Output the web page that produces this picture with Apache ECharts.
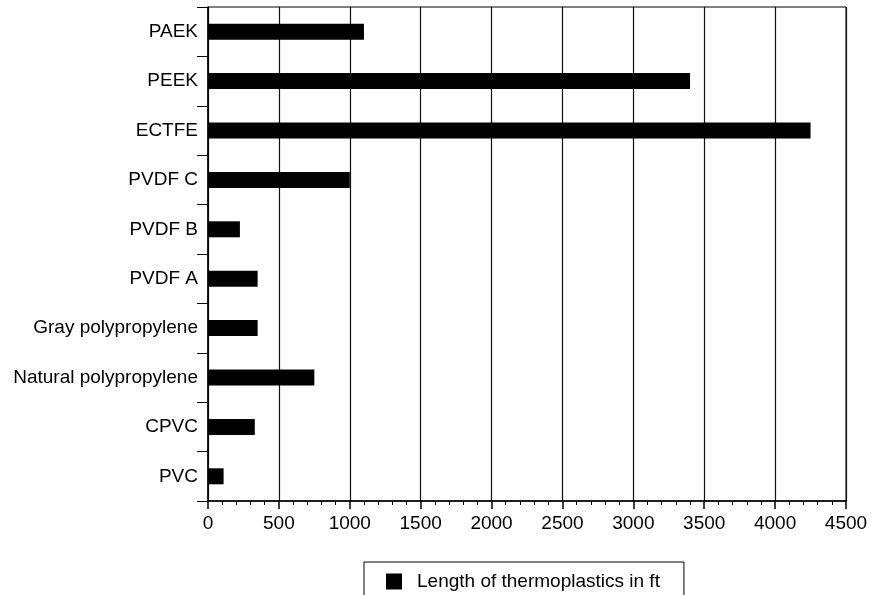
<!DOCTYPE html>
<html>
<head>
<meta charset="utf-8">
<script src="https://cdn.jsdelivr.net/npm/echarts@6/dist/echarts.min.js"></script>
<style>
html,body{margin:0;padding:0;background:#fff;}
#chart{width:875px;height:595px;}
</style>
</head>
<body>
<div id="chart"></div>
<script>
var categories = ['PAEK','PEEK','ECTFE','PVDF C','PVDF B','PVDF A','Gray polypropylene','Natural polypropylene','CPVC','PVC'];
var lengths = [1100, 3400, 4250, 1000, 225, 350, 350, 750, 330, 110];
var seriesName = 'Length of thermoplastics in ft';
var xTicks = {min: 0, max: 4500, interval: 500};

var FONT = 'Liberation Sans';
var FS = 19;
var chart = echarts.init(document.getElementById('chart'));
chart.setOption({
  animation: false,
  backgroundColor: '#ffffff',
  grid: {left: 208, right: 29, top: 7, bottom: 94, show: true, borderColor: '#000', borderWidth: 1},
  legend: {
    data: [seriesName],
    left: 364, top: 562,
    orient: 'horizontal',
    icon: 'rect',
    itemWidth: 16, itemHeight: 16,
    borderColor: '#000', borderWidth: 1,
    padding: [10, 24, 10, 22],
    textStyle: {fontFamily: FONT, fontSize: FS, color: '#000', padding: [0, 0, 0, 10]}
  },
  xAxis: {
    type: 'value',
    min: xTicks.min, max: xTicks.max, interval: xTicks.interval,
    axisLine: {show: true, lineStyle: {color: '#000', width: 1.5}},
    axisTick: {show: true, length: 8, lineStyle: {color: '#000', width: 1.5}},
    minorTick: {show: true, splitNumber: 5, length: 4, lineStyle: {color: '#000', width: 1}},
    axisLabel: {fontFamily: FONT, fontSize: FS, color: '#000', margin: 13,
      formatter: function (v) { return String(v); }},
    splitLine: {show: true, lineStyle: {color: '#111', width: 1.2}}
  },
  yAxis: {
    type: 'category',
    data: categories,
    inverse: true,
    axisLine: {show: true, lineStyle: {color: '#000', width: 1.5}},
    axisTick: {show: true, length: 11, alignWithLabel: false, lineStyle: {color: '#000', width: 1}},
    axisLabel: {fontFamily: FONT, fontSize: FS, color: '#000', margin: 10},
    splitLine: {show: false}
  },
  series: [{
    name: seriesName,
    type: 'bar',
    data: lengths,
    barWidth: 16,
    itemStyle: {color: '#000'}
  }]
});
</script>
</body>
</html>
